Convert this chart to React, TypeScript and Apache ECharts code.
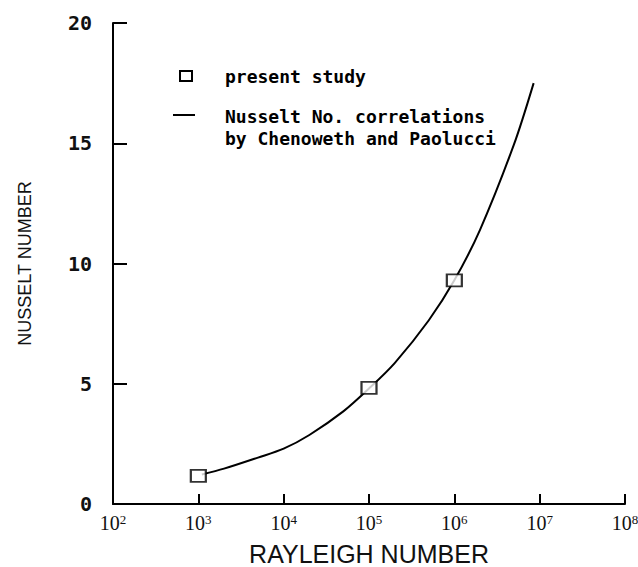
import React, { useEffect, useRef } from "react";
import * as echarts from "echarts";

// Measured points ("present study")
const studyRa = [1.0e3, 1.0e5, 1.0e6];
const studyNu = [1.17, 4.83, 9.3];

// Correlation curve (Chenoweth and Paolucci)
const corrRa = [1.1e3, 2e3, 5e3, 1e4, 2e4, 5e4, 1e5, 2e5, 5e5, 1e6, 2e6, 5e6, 8.5e6];
const corrNu = [1.23, 1.47, 1.93, 2.3, 2.87, 3.85, 4.8, 5.86, 7.63, 9.3, 11.4, 14.95, 17.5];

const yTicks = [0, 5, 10, 15, 20];
const legendStudy = "present study";
const legendCorr = ["Nusselt No. correlations", "by Chenoweth and Paolucci"];

export default function App() {
  const ref = useRef<HTMLDivElement>(null);
  useEffect(() => {
    if (!ref.current) return;
    const chart = echarts.init(ref.current, null, { renderer: "svg" });
    const monoFont = "'DejaVu Sans Mono', monospace";
    chart.setOption({
      animation: false,
      backgroundColor: "#ffffff",
      grid: { left: 113, right: 13, top: 23, bottom: 63, containLabel: false, outerBoundsMode: "none" },
      xAxis: {
        type: "log",
        logBase: 10,
        min: 100,
        max: 1e8,
        name: "RAYLEIGH NUMBER",
        nameLocation: "middle",
        nameGap: 37,
        nameTextStyle: { fontFamily: "'Liberation Sans', Arial, sans-serif", fontSize: 25, color: "#111" },
        axisLine: { show: true, lineStyle: { color: "#000", width: 2 } },
        axisTick: { show: true, inside: true, length: 10, lineStyle: { color: "#000", width: 2 } },
        minorTick: { show: false },
        splitLine: { show: false },
        axisLabel: {
          margin: 9,
          color: "#111",
          fontFamily: "'Liberation Serif', 'Times New Roman', serif",
          fontSize: 20,
          formatter: (v: number) => `10{s|${Math.round(Math.log10(v))}}`,
          rich: {
            s: { fontSize: 13, verticalAlign: "top", lineHeight: 11, fontFamily: "'Liberation Serif', serif", color: "#111" },
          },
        },
      },
      yAxis: {
        type: "value",
        min: yTicks[0],
        max: yTicks[yTicks.length - 1],
        interval: 5,
        name: "NUSSELT NUMBER",
        nameLocation: "middle",
        nameRotate: 90,
        nameGap: 79,
        nameTextStyle: { fontFamily: "'Liberation Sans', Arial, sans-serif", fontSize: 18, color: "#111" },
        axisLine: { show: true, lineStyle: { color: "#000", width: 2 } },
        axisTick: { show: true, inside: true, length: 14, lineStyle: { color: "#000", width: 2 } },
        splitLine: { show: false },
        axisLabel: {
          margin: 21,
          color: "#111",
          fontFamily: monoFont,
          fontWeight: "bold",
          fontSize: 20,
        },
      },
      series: [
        {
          name: "correlation",
          type: "line",
          data: corrRa.map((x, i) => [x, corrNu[i]]),
          smooth: 0.3,
          showSymbol: false,
          lineStyle: { color: "#000", width: 2 },
          z: 2,
        },
        {
          name: "present study",
          type: "scatter",
          data: studyRa.map((x, i) => [x, studyNu[i]]),
          symbol: "rect",
          symbolSize: [15, 12],
          itemStyle: { color: "#fff", borderColor: "#000", borderWidth: 2 },
          z: 3,
        },
      ],
      graphic: [
        {
          type: "rect",
          shape: { x: 180, y: 71, width: 12, height: 10 },
          style: { fill: "#fff", stroke: "#000", lineWidth: 2 },
        },
        {
          type: "text",
          x: 225,
          y: 76,
          style: { text: legendStudy, font: `bold 18px ${monoFont}`, fill: "#000", verticalAlign: "middle" },
        },
        {
          type: "line",
          shape: { x1: 173, y1: 115, x2: 195, y2: 115 },
          style: { stroke: "#000", lineWidth: 2 },
        },
        {
          type: "text",
          x: 225,
          y: 116,
          style: { text: legendCorr[0], font: `bold 18px ${monoFont}`, fill: "#000", verticalAlign: "middle" },
        },
        {
          type: "text",
          x: 225,
          y: 138,
          style: { text: legendCorr[1], font: `bold 18px ${monoFont}`, fill: "#000", verticalAlign: "middle" },
        },
      ],
    });
    return () => chart.dispose();
  }, []);
  return <div ref={ref} style={{ width: 638, height: 567, position: "absolute", left: 0, top: 0 }} />;
}
